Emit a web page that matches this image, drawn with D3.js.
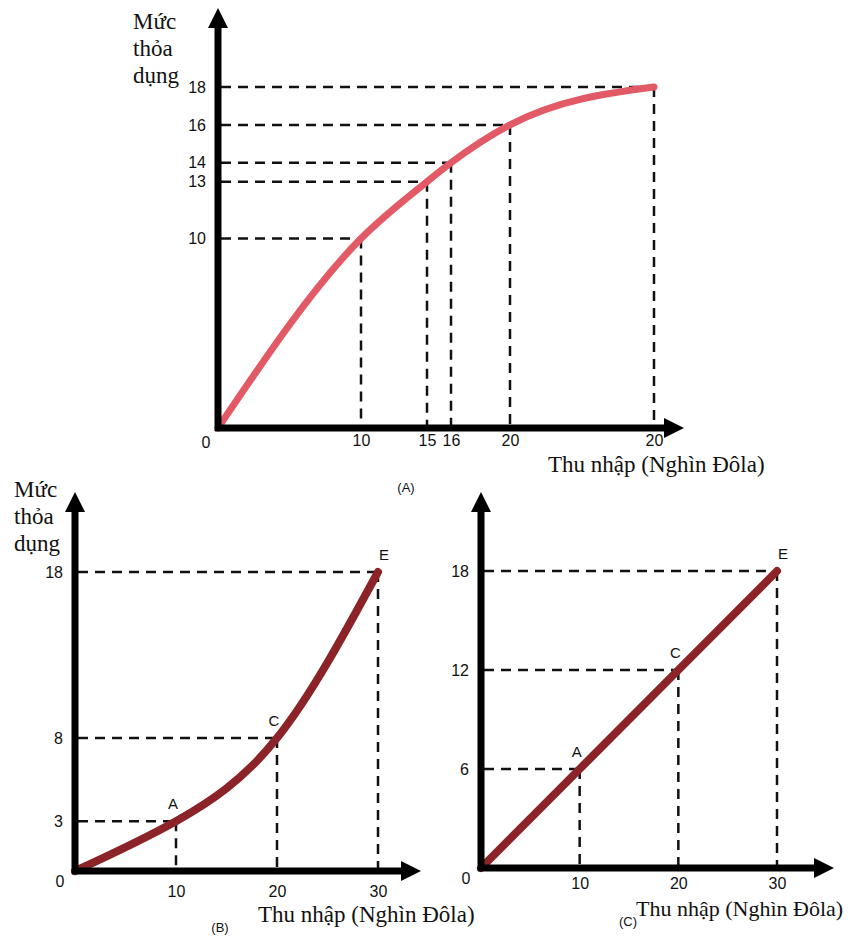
<!DOCTYPE html>
<html>
<head>
<meta charset="utf-8">
<script src="https://cdn.jsdelivr.net/npm/d3@7/dist/d3.min.js"></script>
<style>
  html, body { margin: 0; padding: 0; background: #fff; }
  svg { display: block; }
  .tick-label { font-family: "Liberation Sans", Arial, sans-serif; font-size: 16px; fill: #111; }
  .title { font-family: "Liberation Serif", "Times New Roman", serif; font-size: 23px; fill: #111; }
  .tag { font-family: "Liberation Sans", Arial, sans-serif; font-size: 13px; fill: #111; }
</style>
</head>
<body>
<svg id="chart" width="851" height="937"></svg>
<script>
// Panel A: concave utility (risk-averse)
const incomeA = [0, 10, 15, 16, 20, 30];
const utilityA = [0, 10, 13, 14, 16, 18];
const xTicksA = [10, 15, 16, 20, 30];
const xTickLabelsA = ["10", "15", "16", "20", "20"];
const yTicksA = [10, 13, 14, 16, 18];

// Panel B: convex utility (risk-loving)
const incomeB = [0, 10, 20, 30];
const utilityB = [0, 3, 8, 18];
const pointNamesB = ["", "A", "C", "E"];
const xTicksB = [10, 20, 30];
const yTicksB = [3, 8, 18];

// Panel C: linear utility (risk-neutral)
const incomeC = [0, 10, 20, 30];
const utilityC = [0, 6, 12, 18];
const pointNamesC = ["", "A", "C", "E"];
const xTicksC = [10, 20, 30];
const yTicksC = [6, 12, 18];

const yTitle = ["Mức", "thỏa", "dụng"];
const xTitle = "Thu nhập (Nghìn Đôla)";

const svg = d3.select("#chart");

function drawPanel(cfg) {
  const g = svg.append("g");
  const x = cfg.x, y = cfg.y;
  const x0 = x(0), y0 = y(0);

  // dashed guide lines from each point to both axes
  const pts = cfg.income.map((v, i) => ({ xv: v, yv: cfg.utility[i], name: cfg.names ? cfg.names[i] : "" }))
    .filter(d => d.xv > 0);
  g.selectAll("line.hguide").data(pts).join("line")
    .attr("x1", x0 + 3).attr("x2", d => x(d.xv))
    .attr("y1", d => y(d.yv)).attr("y2", d => y(d.yv))
    .attr("stroke", "#111").attr("stroke-width", 2.5).attr("stroke-dasharray", "10,7");
  g.selectAll("line.vguide").data(pts).join("line")
    .attr("x1", d => x(d.xv)).attr("x2", d => x(d.xv))
    .attr("y1", d => y(d.yv)).attr("y2", y0 - 3)
    .attr("stroke", "#111").attr("stroke-width", 2.5).attr("stroke-dasharray", "10,7");

  // utility curve
  const line = d3.line().x(d => x(d.xv)).y(d => y(d.yv)).curve(cfg.curve);
  g.append("path")
    .datum(cfg.income.map((v, i) => ({ xv: v, yv: cfg.utility[i] })))
    .attr("d", line)
    .attr("fill", "none").attr("stroke", cfg.color).attr("stroke-width", cfg.width)
    .attr("stroke-linecap", "round");

  // axes lines with arrow heads
  g.append("line").attr("x1", x0).attr("x2", x0).attr("y1", y0 + 3).attr("y2", cfg.yTip + 16)
    .attr("stroke", "#000").attr("stroke-width", 7);
  g.append("line").attr("x1", x0 - 3).attr("x2", cfg.xTip - 16).attr("y1", y0).attr("y2", y0)
    .attr("stroke", "#000").attr("stroke-width", 7);
  g.append("path")
    .attr("d", `M${x0},${cfg.yTip} L${x0 - 10},${cfg.yTip + 20} L${x0 + 10},${cfg.yTip + 20} Z`)
    .attr("fill", "#000");
  g.append("path")
    .attr("d", `M${cfg.xTip},${y0} L${cfg.xTip - 20},${y0 - 10} L${cfg.xTip - 20},${y0 + 10} Z`)
    .attr("fill", "#000");

  // tick labels through d3 axes (no domain, no tick marks)
  const xAxis = d3.axisBottom(x).tickValues(cfg.xTicks).tickSize(0).tickPadding(0)
    .tickFormat((d, i) => cfg.xTickLabels ? cfg.xTickLabels[i] : d3.format("d")(d));
  const xa = g.append("g").attr("transform", `translate(0,${y0 + cfg.xLabelGap})`).call(xAxis);
  xa.select(".domain").remove();
  xa.selectAll("text").attr("class", "tick-label").attr("dy", "0.71em").attr("fill", null);

  const yAxis = d3.axisLeft(y).tickValues(cfg.yTicks).tickSize(0).tickPadding(0)
    .tickFormat(d3.format("d"));
  const ya = g.append("g").attr("transform", `translate(${x0 - cfg.yLabelGap},0)`).call(yAxis);
  ya.select(".domain").remove();
  ya.selectAll("text").attr("class", "tick-label").attr("fill", null);

  // origin label
  g.append("text").attr("class", "tick-label")
    .attr("x", x0 + cfg.zeroDx).attr("y", y0 + cfg.zeroDy).attr("text-anchor", "middle")
    .attr("dy", "0.35em").text("0");

  // point names
  g.selectAll("text.pname").data(pts.filter(d => d.name)).join("text")
    .attr("class", "tick-label")
    .attr("x", (d, i, n) => x(d.xv) + (i === n.length - 1 ? 6 : -3))
    .attr("y", d => y(d.yv) - 12)
    .attr("text-anchor", "middle")
    .style("font-size", "15px")
    .text(d => d.name);

  // axis titles
  if (cfg.yTitlePos) {
    g.append("text").attr("class", "title")
      .attr("x", cfg.yTitlePos[0]).attr("y", cfg.yTitlePos[1])
      .selectAll("tspan").data(yTitle).join("tspan")
      .attr("x", cfg.yTitlePos[0]).attr("dy", (d, i) => i ? 27 : 0).text(d => d);
  }
  g.append("text").attr("class", "title")
    .attr("x", cfg.xTitlePos[0]).attr("y", cfg.xTitlePos[1])
    .style("font-size", cfg.xTitleSize + "px").text(xTitle);
  g.append("text").attr("class", "tag")
    .attr("x", cfg.tagPos[0]).attr("y", cfg.tagPos[1]).attr("text-anchor", "middle").text(cfg.tag);
}

// Panel A's income axis is hand-spaced (15 and 16 sit wider apart), so it uses a piecewise-linear scale
drawPanel({
  x: d3.scaleLinear([0, 10, 15, 16, 20, 30], [218, 361, 427, 451, 510, 654]),
  y: d3.scaleLinear([0, 18], [428, 87]),
  income: incomeA, utility: utilityA,
  xTicks: xTicksA, xTickLabels: xTickLabelsA, yTicks: yTicksA,
  curve: d3.curveMonotoneX, color: "#e15a66", width: 7,
  yTip: 8, xTip: 684, xLabelGap: 7, yLabelGap: 12, zeroDx: -12, zeroDy: 14,
  yTitlePos: [133, 29], xTitlePos: [548, 472], xTitleSize: 23, tag: "(A)", tagPos: [406, 492]
});

drawPanel({
  x: d3.scaleLinear([0, 30], [75, 378]),
  y: d3.scaleLinear([0, 18], [871, 572]),
  income: incomeB, utility: utilityB, names: pointNamesB,
  xTicks: xTicksB, yTicks: yTicksB,
  curve: d3.curveNatural, color: "#8c2328", width: 8,
  yTip: 492, xTip: 421, xLabelGap: 15, yLabelGap: 12, zeroDx: -15, zeroDy: 10,
  yTitlePos: [14, 497], xTitlePos: [258, 922], xTitleSize: 23, tag: "(B)", tagPos: [220, 932]
});

drawPanel({
  x: d3.scaleLinear([0, 30], [481, 777]),
  y: d3.scaleLinear([0, 18], [868, 571]),
  income: incomeC, utility: utilityC, names: pointNamesC,
  xTicks: xTicksC, yTicks: yTicksC,
  curve: d3.curveLinear, color: "#8c2328", width: 8,
  yTip: 492, xTip: 834, xLabelGap: 10, yLabelGap: 12, zeroDx: -15, zeroDy: 10,
  yTitlePos: null, xTitlePos: [636, 916], xTitleSize: 22, tag: "(C)", tagPos: [628, 926]
});
</script>
</body>
</html>
